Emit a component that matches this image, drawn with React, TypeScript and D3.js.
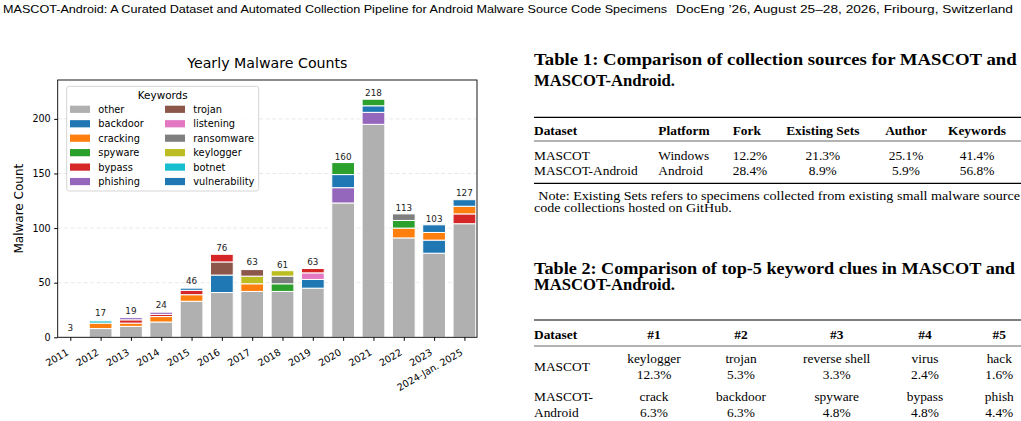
import * as d3 from "d3";
import { useEffect, useRef } from "react";

// chart data
const years: string[] = [
  "2011", "2012", "2013", "2014", "2015", "2016", "2017",
  "2018", "2019", "2020", "2021", "2022", "2023", "2024-Jan. 2025",
];
const totals: number[] = [3, 17, 19, 24, 46, 76, 63, 61, 63, 160, 218, 113, 103, 127];
const keywords: string[] = [
  "other", "backdoor", "cracking", "spyware", "bypass", "phishing",
  "trojan", "listening", "ransomware", "keylogger", "botnet", "vulnerability",
];
const keywordColors: string[] = [
  "#b0b0b0", "#1f77b4", "#ff7f0e", "#2ca02c", "#d62728", "#9467bd",
  "#8c564b", "#e377c2", "#7f7f7f", "#bcbd22", "#17becf", "#1f77b4",
];
const other: number[] = [1, 8, 10, 14, 33, 41, 42, 42, 45, 123, 195, 91, 77, 104];
const backdoor: number[] = [0, 0, 0, 0, 0, 16, 0, 0, 8, 12, 6, 0, 12, 0];
const cracking: number[] = [0, 5, 3, 5, 6, 0, 7, 0, 0, 0, 0, 9, 7, 7];
const spyware: number[] = [0, 0, 0, 0, 0, 0, 0, 7, 0, 11, 6, 7, 0, 0];
const bypass: number[] = [0, 0, 3, 2, 4, 7, 0, 0, 4, 0, 0, 0, 0, 9];
const phishing: number[] = [0, 0, 2, 2, 0, 0, 0, 0, 0, 14, 11, 0, 0, 0];
const trojan: number[] = [0, 0, 0, 0, 0, 12, 6, 0, 0, 0, 0, 0, 0, 0];
const listening: number[] = [0, 0, 0, 0, 0, 0, 0, 0, 6, 0, 0, 0, 0, 0];
const ransomware: number[] = [0, 0, 0, 0, 0, 0, 0, 7, 0, 0, 0, 6, 0, 0];
const keylogger: number[] = [0, 0, 0, 0, 0, 0, 7, 5, 0, 0, 0, 0, 0, 0];
const botnet: number[] = [0, 2, 0, 0, 0, 0, 0, 0, 0, 0, 0, 0, 0, 0];
const vulnerability: number[] = [0, 0, 0, 0, 2, 0, 0, 0, 0, 0, 0, 0, 7, 6];
const series: number[][] = [
  other, backdoor, cracking, spyware, bypass, phishing,
  trojan, listening, ransomware, keylogger, botnet, vulnerability,
];
const yTicks: number[] = [0, 50, 100, 150, 200];

// table data
const table1Head: string[] = ["Dataset", "Platform", "Fork", "Existing Sets", "Author", "Keywords"];
const table1Rows: string[][] = [
  ["MASCOT", "Windows", "12.2%", "21.3%", "25.1%", "41.4%"],
  ["MASCOT-Android", "Android", "28.4%", "8.9%", "5.9%", "56.8%"],
];
const table2Head: string[] = ["Dataset", "#1", "#2", "#3", "#4", "#5"];
const table2Names: string[][] = [["MASCOT"], ["MASCOT-", "Android"]];
const table2Words: string[][] = [
  ["keylogger", "trojan", "reverse shell", "virus", "hack"],
  ["crack", "backdoor", "spyware", "bypass", "phish"],
];
const table2Shares: string[][] = [
  ["12.3%", "5.3%", "3.3%", "2.4%", "1.6%"],
  ["6.3%", "6.3%", "4.8%", "4.8%", "4.4%"],
];

const W = 1021;
const H = 421;
const plotLeft = 57.7;
const plotRight = 477;
const plotTop = 80;
const plotBottom = 337.3;

function Chart() {
  const ref = useRef<SVGGElement>(null);

  useEffect(() => {
    const g = d3.select(ref.current);
    g.selectAll("*").remove();

    const x = d3.scaleLinear().domain([-0.415, years.length - 1 + 0.415]).range([plotLeft, plotRight]);
    const y = d3.scaleLinear().domain([0, 235.6]).range([plotBottom, plotTop]);
    const barW = x(0.75) - x(0);

    // grid
    g.append("g")
      .selectAll("line")
      .data(yTicks.slice(1))
      .enter()
      .append("line")
      .attr("x1", plotLeft)
      .attr("x2", plotRight)
      .attr("y1", (d) => y(d))
      .attr("y2", (d) => y(d))
      .attr("stroke", "#b0b0b0")
      .attr("stroke-opacity", 0.35)
      .attr("stroke-width", 0.8)
      .attr("stroke-dasharray", "4,2.5");

    // stacked bars: other at bottom, then keywords by descending count
    years.forEach((yr, i) => {
      const order = keywords
        .map((k, ki) => ki)
        .filter((ki) => ki > 0 && series[ki][i] > 0)
        .sort((a, b) => series[b][i] - series[a][i] || a - b);
      const stack = [0, ...order];
      let base = 0;
      stack.forEach((ki) => {
        const v = series[ki][i];
        if (v <= 0) return;
        g.append("rect")
          .attr("x", x(i) - barW / 2)
          .attr("y", y(base + v))
          .attr("width", barW)
          .attr("height", y(base) - y(base + v))
          .attr("fill", keywordColors[ki])
          .attr("stroke", "white")
          .attr("stroke-width", 1);
        base += v;
      });
      g.append("text")
        .attr("x", x(i))
        .attr("y", y(totals[i]) - 3)
        .attr("text-anchor", "middle")
        .attr("font-size", 8.8)
        .attr("fill", "#222")
        .text(totals[i]);
    });

    // axes box
    g.append("rect")
      .attr("x", plotLeft)
      .attr("y", plotTop)
      .attr("width", plotRight - plotLeft)
      .attr("height", plotBottom - plotTop)
      .attr("fill", "none")
      .attr("stroke", "#000")
      .attr("stroke-width", 0.9);

    const yAxis = g.append("g").attr("transform", `translate(${plotLeft},0)`)
      .call(d3.axisLeft(y).tickValues(yTicks).tickSize(3.5).tickPadding(3.5));
    yAxis.select(".domain").remove();
    yAxis.selectAll("text").attr("font-size", 9.6).attr("font-family", "DejaVu Sans").attr("fill", "#000");

    const xAxis = g.append("g").attr("transform", `translate(0,${plotBottom})`)
      .call(d3.axisBottom(x).tickValues(d3.range(years.length)).tickSize(3.5).tickFormat(() => ""));
    xAxis.select(".domain").remove();
    g.append("g")
      .selectAll("text")
      .data(years)
      .enter()
      .append("text")
      .attr("transform", (d, i) => `translate(${x(i) - 1},${plotBottom + 17}) rotate(-30)`)
      .attr("text-anchor", "end")
      .attr("font-size", 9.6)
      .text((d) => d);

    // titles
    g.append("text")
      .attr("x", (plotLeft + plotRight) / 2)
      .attr("y", 68)
      .attr("text-anchor", "middle")
      .attr("font-size", 14.2)
      .text("Yearly Malware Counts");
    g.append("text")
      .attr("transform", `translate(23,${(plotTop + plotBottom) / 2}) rotate(-90)`)
      .attr("text-anchor", "middle")
      .attr("font-size", 12)
      .text("Malware Count");

    // legend
    const lg = g.append("g");
    lg.append("rect")
      .attr("x", 66.7)
      .attr("y", 86.3)
      .attr("width", 192)
      .attr("height", 104.7)
      .attr("rx", 2.5)
      .attr("fill", "white")
      .attr("fill-opacity", 0.85)
      .attr("stroke", "#d0d0d0")
      .attr("stroke-width", 0.9);
    lg.append("text")
      .attr("x", 162.7)
      .attr("y", 99)
      .attr("text-anchor", "middle")
      .attr("font-size", 10.4)
      .text("Keywords");
    keywords.forEach((k, ki) => {
      const col = ki < 6 ? 0 : 1;
      const row = ki % 6;
      const cy = 109.3 + row * 14.45;
      const sx = col === 0 ? 70 : 165;
      lg.append("rect")
        .attr("x", sx)
        .attr("y", cy - 3.6)
        .attr("width", 20)
        .attr("height", 7.2)
        .attr("fill", keywordColors[ki]);
      lg.append("text")
        .attr("x", sx + 28.3)
        .attr("y", cy + 3.6)
        .attr("font-size", 9.8)
        .text(k);
    });
  }, []);

  return <g ref={ref} fontFamily="DejaVu Sans" fill="#000" />;
}

function Tables() {
  const serif = "Liberation Serif";
  const fs = 13.4;
  const t1Cols = [
    { x: 534, a: "start" },
    { x: 658.3, a: "start" },
    { x: 732.7, a: "start" },
    { x: 822.8, a: "middle" },
    { x: 906, a: "middle" },
    { x: 977, a: "middle" },
  ];
  const t2Cols = [654, 741, 836.7, 925, 999.3];
  return (
    <g fontFamily={serif} fill="#000">
      {/* Table 1 */}
      <text x={534} y={65} fontSize={16} fontWeight="bold" textLength={482.7} lengthAdjust="spacingAndGlyphs">
        Table 1: Comparison of collection sources for MASCOT and
      </text>
      <text x={534} y={86.3} fontSize={16} fontWeight="bold" textLength={141} lengthAdjust="spacingAndGlyphs">
        MASCOT-Android.
      </text>
      <line x1={534} x2={1021} y1={117.3} y2={117.3} stroke="#000" strokeWidth={1.2} />
      {table1Head.map((h, i) => (
        <text key={h} x={t1Cols[i].x} y={134.5} fontSize={fs} fontWeight="bold" textAnchor={t1Cols[i].a}>
          {h}
        </text>
      ))}
      <line x1={534} x2={1021} y1={141} y2={141} stroke="#000" strokeWidth={0.6} />
      {table1Rows.map((r, ri) =>
        r.map((c, ci) => (
          <text key={ri + "-" + ci} x={t1Cols[ci].x} y={159.5 + ri * 15.7} fontSize={fs} textAnchor={t1Cols[ci].a}>
            {c}
          </text>
        ))
      )}
      <line x1={534} x2={1021} y1={183.3} y2={183.3} stroke="#000" strokeWidth={1.2} />
      <text x={538.3} y={199.8} fontSize={12.2} textLength={481.7} lengthAdjust="spacingAndGlyphs">
        Note: Existing Sets refers to specimens collected from existing small malware source
      </text>
      <text x={534} y={212.4} fontSize={12.2} textLength={197.7} lengthAdjust="spacingAndGlyphs">
        code collections hosted on GitHub.
      </text>

      {/* Table 2 */}
      <text x={534} y={274} fontSize={16} fontWeight="bold" textLength={481} lengthAdjust="spacingAndGlyphs">
        Table 2: Comparison of top-5 keyword clues in MASCOT and
      </text>
      <text x={534} y={289.7} fontSize={16} fontWeight="bold" textLength={141} lengthAdjust="spacingAndGlyphs">
        MASCOT-Android.
      </text>
      <line x1={534} x2={1021} y1={320} y2={320} stroke="#000" strokeWidth={1.2} />
      {table2Head.map((h, i) => (
        <text key={h} x={i === 0 ? 534 : t2Cols[i - 1]} y={338.5} fontSize={fs} fontWeight="bold" textAnchor={i === 0 ? "start" : "middle"}>
          {h}
        </text>
      ))}
      <line x1={534} x2={1021} y1={346} y2={346} stroke="#000" strokeWidth={0.6} />
      {table2Names.map((lines, ri) =>
        lines.map((l, li) => (
          <text key={"n" + ri + li} x={534} y={lines.length === 1 ? 371.2 : 401.2 + li * 16} fontSize={fs}>
            {l}
          </text>
        ))
      )}
      {table2Words.map((r, ri) =>
        r.map((w, ci) => (
          <g key={"w" + ri + ci}>
            <text x={t2Cols[ci]} y={362.8 + ri * 38.4} fontSize={fs} textAnchor="middle">
              {w}
            </text>
            <text x={t2Cols[ci]} y={379.2 + ri * 38} fontSize={fs} textAnchor="middle">
              {table2Shares[ri][ci]}
            </text>
          </g>
        ))
      )}
    </g>
  );
}

export default function App() {
  return (
    <svg
      width={W}
      height={H}
      viewBox={`0 0 ${W} ${H}`}
      style={{ position: "absolute", left: 0, top: 0, background: "white" }}
    >
      <text x={3} y={13} fontSize={11.5} fontFamily="Liberation Sans Narrow, Liberation Sans" textLength={664} lengthAdjust="spacingAndGlyphs">
        MASCOT-Android: A Curated Dataset and Automated Collection Pipeline for Android Malware Source Code Specimens
      </text>
      <text x={1013} y={13} fontSize={11.5} fontFamily="Liberation Sans Narrow, Liberation Sans" textAnchor="end" textLength={337} lengthAdjust="spacingAndGlyphs">
        DocEng ’26, August 25–28, 2026, Fribourg, Switzerland
      </text>
      <Chart />
      <Tables />
    </svg>
  );
}
